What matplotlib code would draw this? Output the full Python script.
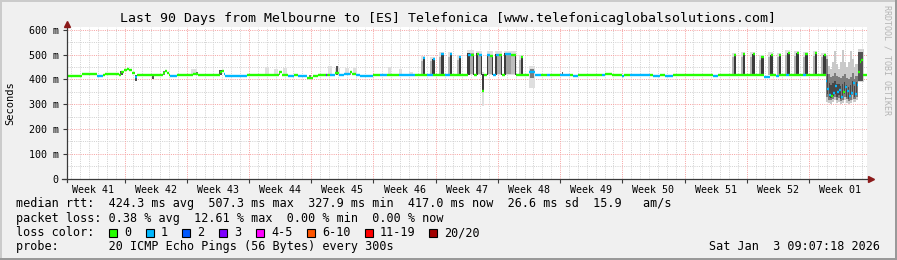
import numpy as np
import matplotlib
matplotlib.use("Agg")
import matplotlib.pyplot as plt
from matplotlib.patches import Rectangle

plt.rcParams['font.family'] = ['DejaVu Sans Mono']

W, H = 897, 260

title = "Last 90 Days from Melbourne to [ES] Telefonica [www.telefonicaglobalsolutions.com]"
week_labels = ["Week 41", "Week 42", "Week 43", "Week 44", "Week 45", "Week 46", "Week 47",
               "Week 48", "Week 49", "Week 50", "Week 51", "Week 52", "Week 01"]
y_ticks = [0, 100, 200, 300, 400, 500, 600]
y_tick_labels = ["0", "100 m", "200 m", "300 m", "400 m", "500 m", "600 m"]
span_days = 90
first_midnight = 0.47   # days after graph start
first_sunday = 6.47

loss_names = ["0", "1", "2", "3", "4-5", "6-10", "11-19", "20/20"]
loss_colors = ["#26ff00", "#00b8ff", "#0059ff", "#7e00ff", "#ff00ff", "#ff5500", "#ff0000", "#a10000"]

# median rtt (ms), step starts in days since graph start, loss class index
med_t = [0.0, 1.65, 3.4, 4.1, 4.3, 5.9, 6.1, 6.4, 6.7, 7.0, 7.3, 7.6, 7.9, 10.85, 11.0, 11.2, 11.45, 11.6, 12.4,
         14.2, 14.7, 17.2, 17.45, 17.65, 17.8, 20.3, 22.0, 23.85, 24.2, 24.9, 25.5, 26.0, 27.0, 27.7,
         28.2, 29.1, 29.3, 29.6, 30.2, 30.6, 31.2, 31.8, 32.1, 32.5, 33.0, 34.4, 35.2, 36.0, 37.4, 39.2,
         40.5, 41.2, 42.5, 43.1, 44.0,
         45.1, 45.45, 45.8, 46.1, 46.4, 46.7, 46.9, 47.25, 47.6, 47.93, 48.26, 48.6, 48.94, 49.27, 49.9, 50.5,
         52.0, 52.65,
         53.3, 54.0, 54.3, 55.46, 56.59, 56.92, 57.49, 60.19, 60.52, 61.31, 62.4, 62.7, 63.34, 65.59,
         65.93, 66.71, 67.27, 68.17, 72.67, 73.23,
         74.0, 78.45, 79.1, 79.75, 80.1, 80.87, 81.2, 82.78, 83.12,
         85.39, 85.55, 85.72, 85.95, 86.17, 86.4, 86.62, 86.85, 87.07, 87.3, 87.52, 87.75, 87.97,
         88.2, 88.42, 88.65, 88.87, 89.04, 89.21, 89.38, 89.55]
med_ms = [415, 423, 414, 416, 421, 417, 428, 438, 442, 436, 425, 410, 417, 426, 434, 425, 417, 414, 417,
          421, 416, 428, 435, 422, 413, 416, 418, 428, 419, 412, 418, 413, 407, 414,
          416, 416, 417, 418, 425, 418, 420, 430, 420, 416, 415, 416, 416, 416, 418, 417,
          418, 417, 418, 417, 417,
          500, 497, 417, 503, 500, 355, 418, 498, 495, 417, 500, 497, 417, 502, 498, 417,
          428, 417,
          417, 416, 417, 416, 417, 413, 417, 417, 421, 417, 412, 417, 416, 417,
          412, 417, 414, 417, 415, 417,
          418, 411, 418, 415, 418, 416, 418, 416, 418,
          395, 360, 338, 333, 345, 372, 350, 358, 330, 348, 368, 352, 332,
          345, 385, 342, 378, 430, 470, 478, 418]
med_loss = [0, 0, 1, 0, 0, 0, 0, 0, 0, 0, 0, 1, 0, 0, 0, 0, 0, 1, 0,
            0, 0, 0, 0, 1, 1, 0, 0, 0, 0, 1, 0, 1, 0, 0,
            0, 3, 0, 1, 0, 1, 1, 0, 0, 1, 1, 0, 1, 0, 1, 0,
            1, 0, 1, 0, 0,
            1, 0, 0, 0, 1, 0, 0, 1, 0, 1, 1, 0, 0, 1, 0, 0,
            1, 1,
            0, 1, 0, 1, 0, 1, 0, 1, 0, 0, 1, 0, 1, 0,
            1, 0, 1, 0, 1, 0,
            0, 1, 0, 1, 0, 1, 0, 1, 0,
            1, 1, 1, 0, 1, 1, 1, 1, 1, 0, 1, 1, 1,
            1, 1, 1, 1, 0, 0, 0, 0]

# short daily excursions: day, peak rtt, loss class
spike_day = [40.27, 41.32, 42.33, 43.31, 44.32, 51.3, 75.23, 76.27, 77.32, 78.33, 79.35,
             80.32, 81.26, 82.27, 83.28, 84.34, 85.31]
spike_top = [484, 482, 502, 502, 489, 489, 498, 502, 502, 489, 500, 498, 507, 505, 502, 505, 498]
spike_loss = [1, 1, 1, 1, 1, 0, 0, 0, 0, 0, 0, 0, 0, 0, 0, 0, 0]

# smoke: start day, duration, lowest / highest ping, pings in band (of 20)
smoke_t = [6.0, 7.6, 9.55, 10.8, 14.0, 14.5, 17.15, 22.3, 23.3, 23.8, 24.3, 27.2, 29.4, 30.2, 30.3,
           31.3, 31.8, 32.2, 36.1, 37.3, 38.5,
           45.05, 45.3, 45.05, 45.68, 46.05, 46.25, 46.05, 46.6, 46.68, 46.68, 47.2, 47.4, 47.2, 47.82,
           48.2, 48.4, 48.2, 48.83, 49.2, 49.4, 50.0, 49.2, 50.38, 52.0, 52.05, 55.65, 88.95, 89.0]
smoke_w = [0.3, 0.25, 0.2, 0.2, 0.6, 0.2, 0.25, 0.4, 0.4, 0.2, 0.4, 0.2, 0.4, 0.5, 0.2,
           0.4, 0.2, 0.4, 0.4, 0.4, 0.4,
           0.75, 0.45, 0.25, 0.12, 0.65, 0.4, 0.2, 0.1, 0.22, 0.22, 0.73, 0.45, 0.2, 0.11,
           0.74, 0.45, 0.2, 0.11, 1.3, 0.6, 0.4, 0.2, 0.12, 0.6, 0.5, 0.15, 0.7, 0.5]
smoke_lo = [417, 392, 400, 417, 418, 417, 417, 418, 418, 417, 418, 405, 418, 418, 417,
            418, 418, 418, 418, 418, 418,
            418, 420, 418, 418, 418, 420, 418, 418, 294, 350, 418, 420, 418, 418,
            418, 420, 418, 418, 418, 420, 420, 418, 418, 365, 405, 417, 390, 395]
smoke_hi = [432, 417, 417, 432, 440, 431, 436, 450, 440, 430, 447, 417, 455, 445, 455,
            445, 432, 447, 448, 442, 430,
            518, 505, 505, 500, 515, 503, 505, 500, 430, 420, 515, 500, 500, 498,
            515, 502, 502, 500, 516, 505, 500, 505, 500, 452, 440, 430, 522, 510]
smoke_n = [16, 16, 16, 12, 3, 14, 16, 3, 3, 12, 3, 12, 3, 3, 16,
           3, 10, 3, 3, 3, 3,
           3, 8, 18, 18, 3, 8, 18, 18, 3, 18, 3, 8, 18, 18,
           3, 8, 18, 18, 3, 9, 6, 18, 18, 3, 12, 14, 4, 16]

# unstable last days: columns of outer and inner ping spread
storm_t = [85.4, 85.62, 85.84, 86.06, 86.28, 86.5, 86.72, 86.94, 87.16, 87.38, 87.6, 87.82,
           88.04, 88.26, 88.48, 88.7]
storm_lo = [310, 305, 300, 308, 315, 305, 310, 300, 305, 315, 305, 300, 305, 318, 308, 318]
storm_hi = [500, 455, 440, 470, 515, 460, 440, 470, 520, 470, 450, 470, 515, 480, 450, 460]
storm_core_lo = [330, 318, 315, 322, 330, 318, 325, 312, 316, 330, 320, 312, 318, 335, 320, 330]
storm_core_hi = [480, 420, 410, 415, 425, 412, 410, 405, 415, 420, 405, 400, 410, 425, 400, 415]

stats_rtt = "median rtt:  424.3 ms avg  507.3 ms max  327.9 ms min  417.0 ms now  26.6 ms sd  15.9   am/s"
stats_loss = "packet loss: 0.38 % avg  12.61 % max  0.00 % min  0.00 % now"
probe_text = "probe:       20 ICMP Echo Pings (56 Bytes) every 300s"
stamp = "Sat Jan  3 09:07:18 2026"


def px(x, y):
    # pixel position (from top-left) to figure fraction
    return x / W, 1 - y / H


def gray(n):
    return str(round(1 - 0.85 * n / 20, 3))


fig = plt.figure(figsize=(W / 100, H / 100), dpi=100, facecolor="#f0f0f0")
ax = fig.add_axes([67 / W, (H - 178.7) / H, 800 / W, 151.5 / H])
ax.set_facecolor("white")
ax.set_xlim(0, span_days)
ax.set_ylim(0, 610)
for s in ax.spines.values():
    s.set_visible(False)

# grid
days = first_midnight + np.arange(span_days)
weeks = first_sunday + 7 * np.arange(-1, 13)
weeks = weeks[(weeks > 0) & (weeks < span_days)]
dot = (0, (1, 1.2))
for d in days:
    if not np.any(np.isclose(d, weeks)):
        ax.axvline(d, color="#d2d2d2", lw=0.72, ls=dot, zorder=0)
for v in range(50, 601, 50):
    if v % 100:
        ax.axhline(v, color="#d2d2d2", lw=0.72, ls=dot, zorder=0)
for v in range(100, 601, 100):
    ax.axhline(v, color="#f7a4a4", lw=0.72, ls=dot, zorder=0.5)
for w in weeks:
    ax.axvline(w, color="#f7a4a4", lw=0.72, ls=dot, zorder=0.5)

# smoke bars, including the daily excursions and the unstable period
bars = list(zip(smoke_t, smoke_w, smoke_lo, smoke_hi, smoke_n))
for d, top in zip(spike_day, spike_top):
    bars.append((d - 0.47, 0.52, 417, top + 10, 3))
    bars.append((d - 0.45, 0.22, 418, top - 10, 7))
    bars.append((d - 0.23, 0.28, 417, top, 18))
for i, t0 in enumerate(storm_t):
    bars.append((t0, 0.26, storm_lo[i], storm_hi[i], 5))
    bars.append((t0, 0.26, storm_core_lo[i], storm_core_hi[i], 12))
    mid = (storm_core_lo[i] + storm_core_hi[i]) / 2
    bars.append((t0 + 0.05, 0.14, storm_core_lo[i] + 10, mid + 15, 17))
bars.sort(key=lambda b: b[4])
for t0, w, lo, hi, n in bars:
    ax.bar(t0, hi - lo, width=w, bottom=lo, align="edge", color=gray(n), linewidth=0, zorder=2)

# median line, coloured by loss
ends = med_t[1:] + [span_days]
ax.hlines(med_ms, med_t, ends, colors=[loss_colors[l] for l in med_loss], linewidth=1.7, zorder=3)
ax.hlines(spike_top, [d - 0.2 for d in spike_day], [d + 0.05 for d in spike_day],
          colors=[loss_colors[l] for l in spike_loss], linewidth=1.7, zorder=3)

# axes and arrows
axis_c = "#3a3a3a"
ax.plot([-0.006, 1.002], [0, 0], transform=ax.transAxes, color=axis_c, lw=0.9, clip_on=False, zorder=5)
ax.plot([0, 0], [-0.02, 1.01], transform=ax.transAxes, color=axis_c, lw=0.9, clip_on=False, zorder=5)
ax.plot([1.0045], [0], marker=">", ms=4.5, color="#8b1a1a", transform=ax.transAxes, clip_on=False, zorder=6)
ax.plot([0], [1.024], marker="^", ms=4.5, color="#8b1a1a", transform=ax.transAxes, clip_on=False, zorder=6)

ax.set_yticks(y_ticks, y_tick_labels)
ax.tick_params(axis="y", length=3, width=0.8, color=axis_c, pad=3, labelsize=7.2)
ax.set_xticks(first_sunday - 7 + 3.5 + 7 * np.arange(len(week_labels)), week_labels)
ax.tick_params(axis="x", which="major", length=0, pad=4.5, labelsize=7.2)
ax.set_xticks(weeks, minor=True)
ax.tick_params(axis="x", which="minor", length=3, width=0.8, color=axis_c)

# frame shading
fig.add_artist(Rectangle((0, 1 - 2 / H), 1, 2 / H, transform=fig.transFigure, color="#cbcbcb", lw=0))
fig.add_artist(Rectangle((0, 0), 2 / W, 1, transform=fig.transFigure, color="#cbcbcb", lw=0))
fig.add_artist(Rectangle((0, 0), 1, 2 / H, transform=fig.transFigure, color="#999999", lw=0))
fig.add_artist(Rectangle((1 - 2 / W, 0), 2 / W, 1, transform=fig.transFigure, color="#999999", lw=0))

# texts
fig.text(*px(448, 18.7), title, ha="center", va="center", fontsize=9.5)
fig.text(*px(10, 103), "Seconds", rotation=90, ha="center", va="center", fontsize=7.5)
fig.text(*px(887, 60), "RRDTOOL / TOBI OETIKER", rotation=270, ha="center", va="center",
         fontsize=6, color="#b4b4b4")
fig.text(*px(16, 204), stats_rtt, va="center", fontsize=8.5)
fig.text(*px(16, 218.7), stats_loss, va="center", fontsize=8.5)
fig.text(*px(16, 232.7), "loss color:", va="center", fontsize=8.5)
fig.text(*px(16, 246.7), probe_text, va="center", fontsize=8.5)
fig.text(*px(880, 246.7), stamp, ha="right", va="center", fontsize=8.5)

bx = 108.7
for name, col in zip(loss_names, loss_colors):
    x0, y0 = px(bx, 236.5)
    fig.add_artist(Rectangle((x0, y0), 8 / W, 8 / H, transform=fig.transFigure,
                             facecolor=col, edgecolor="black", lw=0.8))
    fig.text(*px(bx + 15.3, 232.7), name, va="center", fontsize=8.5)
    bx += 29.8 + 7.0 * len(name)

fig.savefig("out.png", dpi=100, facecolor=fig.get_facecolor())
